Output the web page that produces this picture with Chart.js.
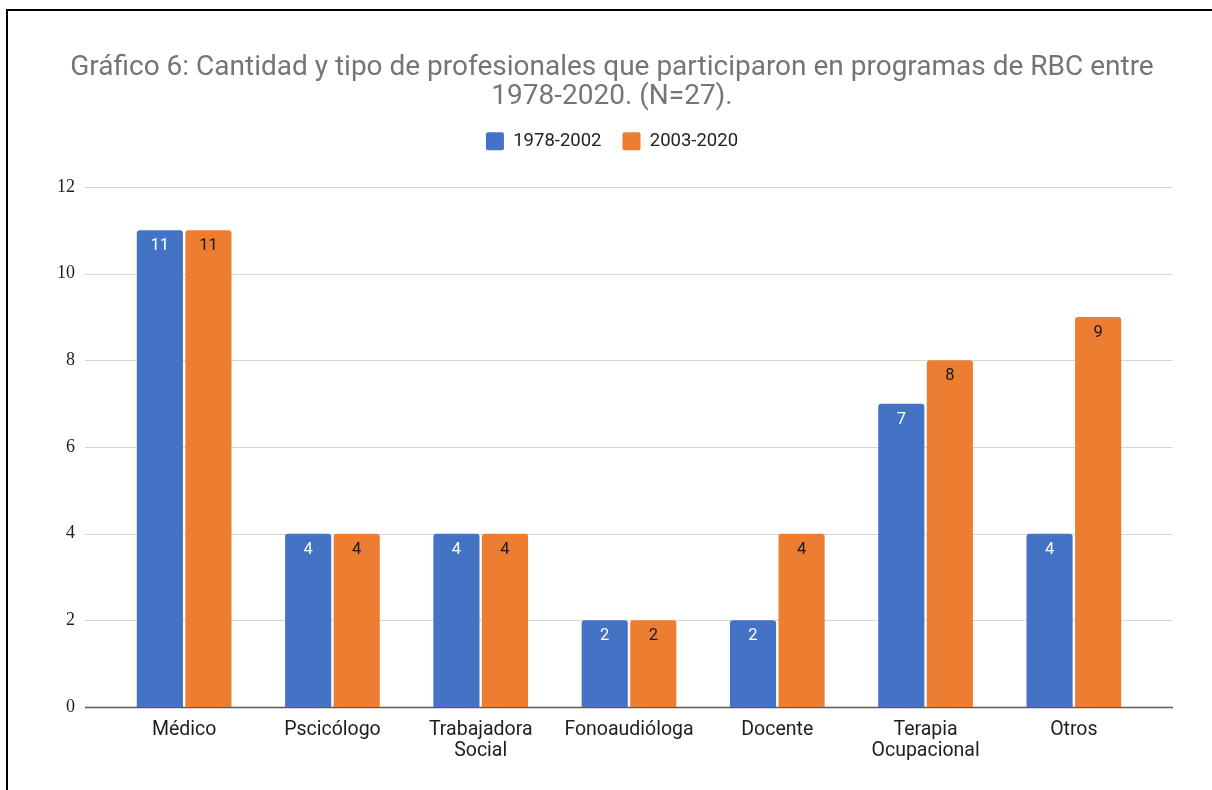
<!DOCTYPE html>
<html>
<head>
<meta charset="utf-8">
<script src="https://cdn.jsdelivr.net/npm/chart.js@4.4.1/dist/chart.umd.min.js"></script>
<style>
  html, body { margin: 0; padding: 0; background: #fff; }
  #wrap { position: relative; width: 1212px; height: 790px; overflow: hidden; }
  #chart { position: absolute; left: 0; top: 0; }
  #frame { position: absolute; left: 6px; top: 9px; width: 1300px; height: 900px;
           border-top: 2px solid #000; border-left: 2px solid #000; pointer-events: none; }
</style>
</head>
<body>
<div id="wrap">
  <canvas id="chart" width="1212" height="790"></canvas>
  <div id="frame"></div>
</div>
<script>
// categories and values
const categories = [['Médico'], ['Pscicólogo'], ['Trabajadora', 'Social'], ['Fonoaudióloga'], ['Docente'], ['Terapia', 'Ocupacional'], ['Otros']];
const period1 = [11, 4, 4, 2, 2, 7, 4];   // 1978-2002
const period2 = [11, 4, 4, 2, 4, 8, 9];   // 2003-2020
const yTicks = [0, 2, 4, 6, 8, 10, 12];
const seriesNames = ['1978-2002', '2003-2020'];
const titleLines = ['Gráfico 6: Cantidad y tipo de profesionales que participaron en programas de RBC entre', '1978-2020. (N=27).'];

const BLUE = '#4472c4';
const ORANGE = '#ed7d31';

Chart.defaults.font.family = 'Roboto';

// horizontal grid lines, a bit wider than the bars area
const gridLines = {
  id: 'gridLines',
  beforeDatasetsDraw(chart) {
    const { ctx, chartArea, scales } = chart;
    ctx.save();
    yTicks.forEach((v) => {
      const y = Math.round(scales.y.getPixelForValue(v)) + 0.5;
      ctx.beginPath();
      ctx.strokeStyle = v === 0 ? '#5a5a5a' : '#d6d6d6';
      ctx.lineWidth = v === 0 ? 1.6 : 1;
      ctx.moveTo(chartArea.left - 25, y);
      ctx.lineTo(chartArea.right + 25, y);
      ctx.stroke();
    });
    ctx.restore();
  }
};

// value labels inside the top of each bar
const barLabels = {
  id: 'barLabels',
  afterDatasetsDraw(chart) {
    const { ctx } = chart;
    ctx.save();
    ctx.font = '16.5px Roboto';
    ctx.textAlign = 'center';
    ctx.textBaseline = 'middle';
    chart.data.datasets.forEach((ds, i) => {
      ctx.fillStyle = i === 0 ? '#ffffff' : '#1a1a1a';
      chart.getDatasetMeta(i).data.forEach((bar, j) => {
        ctx.fillText(String(ds.data[j]), bar.x, bar.y + 16);
      });
    });
    ctx.restore();
  }
};

// extra gap under the legend, and title/legend centred on the whole page
const headerFix = {
  id: 'headerFix',
  beforeInit(chart) {
    const fit = chart.legend.fit;
    chart.legend.fit = function () {
      fit.call(this);
      this.height += 26.5;
    };
  },
  afterLayout(chart) {
    [chart.titleBlock, chart.legend].forEach((box) => {
      box.left = 0;
      box.right = 1224;
      box.width = 1224;
    });
  }
};

new Chart(document.getElementById('chart'), {
  type: 'bar',
  data: {
    labels: categories,
    datasets: [
      { label: seriesNames[0], data: period1, backgroundColor: BLUE },
      { label: seriesNames[1], data: period2, backgroundColor: ORANGE }
    ]
  },
  options: {
    responsive: false,
    animation: false,
    devicePixelRatio: 1,
    categoryPercentage: 0.655,
    barPercentage: 0.95,
    borderRadius: { topLeft: 3, topRight: 3 },
    borderSkipped: 'bottom',
    layout: { padding: { left: 0, right: 64, top: 0, bottom: 0 } },
    plugins: {
      title: {
        display: true,
        text: titleLines,
        color: '#757575',
        font: { size: 28, weight: 'normal', lineHeight: 1.036 },
        padding: { top: 53, bottom: 0 }
      },
      legend: {
        position: 'top',
        labels: {
          boxWidth: 18,
          boxHeight: 18,
          padding: 21,
          color: '#222',
          font: { size: 18.5 },
          useBorderRadius: true,
          borderRadius: 2
        }
      },
      tooltip: { enabled: false }
    },
    scales: {
      x: {
        grid: { display: false, drawTicks: false },
        border: { display: false },
        ticks: { color: '#1e1e1e', font: { size: 19.5, lineHeight: 1.08 }, padding: 13, maxRotation: 0, autoSkip: false },
        afterFit(scale) { scale.height = 83; }
      },
      y: {
        min: 0,
        max: 12,
        grid: { display: false, drawTicks: false },
        border: { display: false },
        ticks: {
          stepSize: 2,
          color: '#1e1e1e',
          padding: 35,
          font: { family: '"Liberation Serif", "DejaVu Serif", serif', size: 18 }
        },
        afterFit(scale) { scale.width = 110; }
      }
    }
  },
  plugins: [gridLines, barLabels, headerFix]
});
</script>
</body>
</html>
